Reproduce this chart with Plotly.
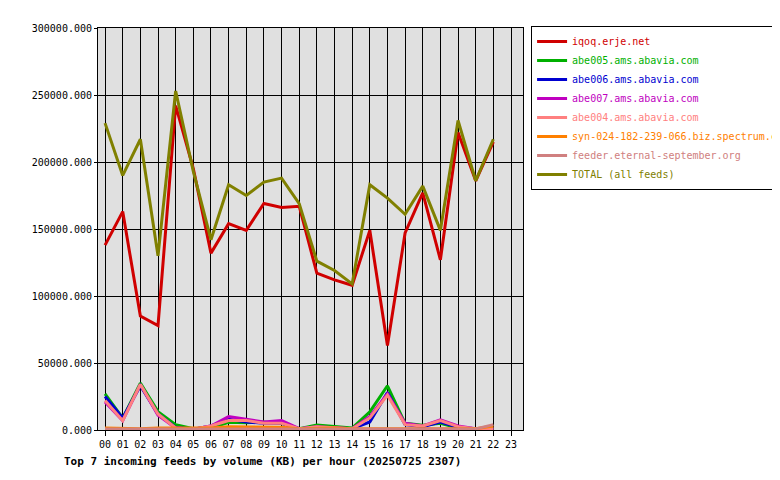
import plotly.graph_objects as go

hours = list(range(23))
tick_labels = [f"{h:02d}" for h in range(24)]
names = ["iqoq.erje.net", "abe005.ams.abavia.com", "abe006.ams.abavia.com",
         "abe007.ams.abavia.com", "abe004.ams.abavia.com",
         "syn-024-182-239-066.biz.spectrum.com", "feeder.eternal-september.org",
         "TOTAL (all feeds)"]
colors = ["#d00000", "#00b000", "#0000d0", "#c000c0", "#ff8080", "#ff8000", "#d08080", "#808000"]

iqoq = [138000,163000,85000,78000,242000,195000,132000,154000,149000,169000,166000,167000,
        117000,112000,108000,149000,63000,147000,177000,127000,222000,186000,215000]
abe005 = [27000,8800,35000,13700,4000,1000,1500,5700,5500,6000,5000,1000,3700,2500,1500,13500,
          33000,5000,3500,5000,1500,1000,500]
abe006 = [25000,9000,33000,12000,2000,500,3000,8000,6000,5000,5000,1000,2000,1500,1000,6000,
          28000,4000,2500,6000,2000,1000,500]
abe007 = [21000,7000,34000,11000,1500,500,3000,10000,8000,6000,7000,1000,2500,1500,1000,10000,
          27000,5000,3000,7500,3000,1000,500]
abe004 = [22000,7000,34000,12000,1500,500,3000,7000,7000,5000,5000,1000,2500,1500,1000,9000,
          26000,4000,3000,7000,2500,1000,1000]
syn = [1500,1000,1000,1500,1500,1500,1500,2500,2500,2500,2000,1000,1500,1500,1000,1000,
       1500,1500,1000,1500,1000,1000,3000]
feeder = [800,800,800,800,800,800,800,800,800,800,800,800,800,800,800,800,
          800,800,800,800,800,800,4000]
total = [229000,190000,217000,130000,253000,193000,142000,183000,175000,185000,188000,169000,
         126000,119000,109000,183000,173000,161000,182000,149000,231000,186000,217000]

series = [iqoq, abe005, abe006, abe007, abe004, syn, feeder, total]
font = "DejaVu Sans Mono"
fig = go.Figure()
for n, c, s in zip(names, colors, series):
    fig.add_trace(go.Scatter(x=hours, y=s, name=f'<span style="color:{c}">{n}</span>',
                             mode="lines", line=dict(color=c, width=3)))
fig.update_layout(
    width=780, height=480, paper_bgcolor="white", plot_bgcolor="#e0e0e0",
    margin=dict(l=90, r=265, t=20, b=58, autoexpand=False),
    font=dict(family=font, size=10, color="black"),
    legend=dict(x=1.019, y=1.005, xanchor="left", yanchor="top", bgcolor="white",
                bordercolor="black", borderwidth=1, font=dict(family=font, size=10),
                tracegroupgap=0, itemwidth=30, entrywidth=0),
    showlegend=True,
    annotations=[dict(text="<b>Top 7 incoming feeds by volume (KB) per hour (20250725 2307)</b>",
                      xref="paper", yref="paper", x=-0.085, y=-0.058, xanchor="left", yanchor="top",
                      showarrow=False, font=dict(family=font, size=11))],
)
fig.update_xaxes(range=[-0.4, 23.68], tickvals=list(range(24)), ticktext=tick_labels,
                 showgrid=True, gridcolor="black", gridwidth=1, ticks="outside", ticklen=5,
                 tickcolor="black", showline=True, linecolor="black", mirror=True, zeroline=False)
fig.update_yaxes(range=[0, 300000], dtick=50000, tickformat=".3f", showgrid=True,
                 gridcolor="black", gridwidth=1, showline=True, linecolor="black", mirror=True,
                 zeroline=False, ticks="outside", ticklen=3, tickcolor="black")
fig.write_html("out.html")
